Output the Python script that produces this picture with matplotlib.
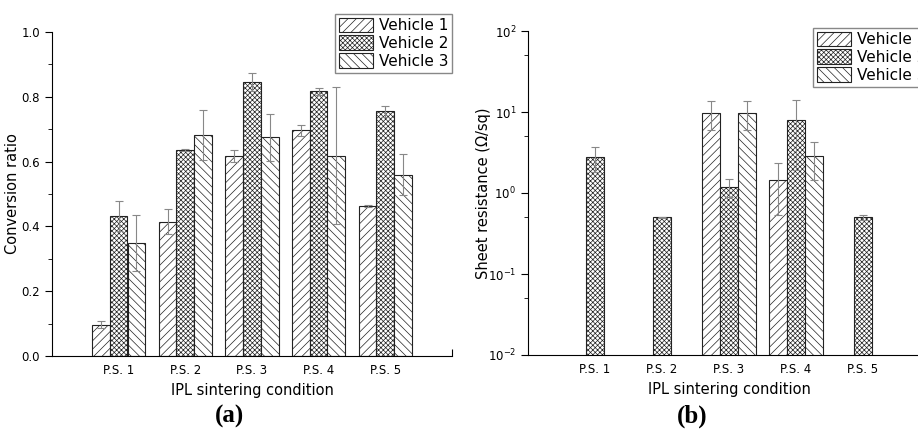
import numpy as np
import matplotlib
matplotlib.use("Agg")
import matplotlib.pyplot as plt
from matplotlib.ticker import MultipleLocator, LogLocator, NullFormatter

# Data
conditions = ["P.S. 1", "P.S. 2", "P.S. 3", "P.S. 4", "P.S. 5"]
vehicles = ["Vehicle 1", "Vehicle 2", "Vehicle 3"]

# (a) conversion ratio
conv_v1 = [0.097, 0.415, 0.618, 0.696, 0.462]
conv_v2 = [0.431, 0.636, 0.845, 0.817, 0.755]
conv_v3 = [0.349, 0.682, 0.675, 0.618, 0.560]
conv_v1_err = [0.012, 0.038, 0.018, 0.016, 0.003]
conv_v2_err = [0.046, 0.003, 0.028, 0.010, 0.016]
conv_v3_err = [0.087, 0.078, 0.072, 0.212, 0.063]

# (b) sheet resistance (ohm/sq), nan = not measured
res_v1 = [np.nan, np.nan, 9.8, 1.43, np.nan]
res_v2 = [2.75, 0.50, 1.20, 7.9, 0.50]
res_v3 = [np.nan, np.nan, 9.8, 2.85, np.nan]
res_v1_err = [np.nan, np.nan, 3.8, 0.9, np.nan]
res_v2_err = [0.95, 0.005, 0.3, 6.0, 0.04]
res_v3_err = [np.nan, np.nan, 3.8, 1.4, np.nan]

hatches = ["////", "xxxxxxx", "\\\\\\\\"]

plt.rcParams["font.family"] = "DejaVu Sans"
plt.rcParams["hatch.linewidth"] = 0.5

fig = plt.figure(figsize=(9.18, 4.34), dpi=100)
ax1 = fig.add_axes([52 / 918, 1 - 356 / 434, 400 / 918, 324 / 434])
ax2 = fig.add_axes([528 / 918, 1 - 355 / 434, 402 / 918, 324 / 434])

x = np.arange(1, 6)
w = 0.265


def draw_bars(ax, series, errs):
    for i, (vals, err) in enumerate(zip(series, errs)):
        pos = x + (i - 1) * w
        ax.bar(pos, vals, w, color="white", edgecolor="#222222", linewidth=0.8,
               hatch=hatches[i], label=vehicles[i], zorder=2)
        ax.errorbar(pos, vals, yerr=err, fmt="none", ecolor="#888888",
                    elinewidth=0.8, capsize=3, capthick=0.8, zorder=3)


def style_axis(ax):
    ax.spines["top"].set_visible(False)
    ax.spines["right"].set_visible(False)
    ax.set_xlim(0, 6)
    ax.set_xticks([1, 2, 3, 4, 5, 6], conditions + [""])
    ax.tick_params(axis="x", direction="in", length=5, labelsize=8.5, pad=6)
    ax.tick_params(axis="y", which="major", direction="out", length=5, labelsize=8.5)
    ax.tick_params(axis="y", which="minor", direction="out", length=3)
    ax.set_xlabel("IPL sintering condition", fontsize=10.5, labelpad=4)


def add_legend(ax, top):
    ax.legend(loc="upper right", bbox_to_anchor=(1.0, top), fontsize=11,
              handlelength=2.2, handleheight=1.1, labelspacing=0.15,
              handletextpad=0.4, borderpad=0.25, borderaxespad=0,
              fancybox=False, edgecolor="#888888", framealpha=1)


# (a)
draw_bars(ax1, [conv_v1, conv_v2, conv_v3], [conv_v1_err, conv_v2_err, conv_v3_err])
style_axis(ax1)
ax1.set_ylim(0, 1.0)
ax1.yaxis.set_major_locator(MultipleLocator(0.2))
ax1.yaxis.set_minor_locator(MultipleLocator(0.1))
ax1.yaxis.set_major_formatter(lambda v, p: f"{v:.1f}")
ax1.set_ylabel("Conversion ratio", fontsize=10.5, labelpad=1)
add_legend(ax1, 1.056)

# (b)
draw_bars(ax2, [res_v1, res_v2, res_v3], [res_v1_err, res_v2_err, res_v3_err])
style_axis(ax2)
ax2.set_yscale("log")
ax2.set_ylim(1e-2, 1e2)
ax2.yaxis.set_major_locator(LogLocator(base=10))
ax2.yaxis.set_minor_locator(LogLocator(base=10, subs=[5]))
ax2.yaxis.set_minor_formatter(NullFormatter())
ax2.set_ylabel("Sheet resistance (\u03a9/sq)", fontsize=10.5, labelpad=-2)
add_legend(ax2, 1.01)

fig.text(230 / 918, 1 - 416 / 434, "(a)", ha="center", va="center",
         fontsize=18, fontweight="bold", family="Liberation Serif")
fig.text(692 / 918, 1 - 416 / 434, "(b)", ha="center", va="center",
         fontsize=18, fontweight="bold", family="Liberation Serif")

fig.savefig("out.png", dpi=100)
